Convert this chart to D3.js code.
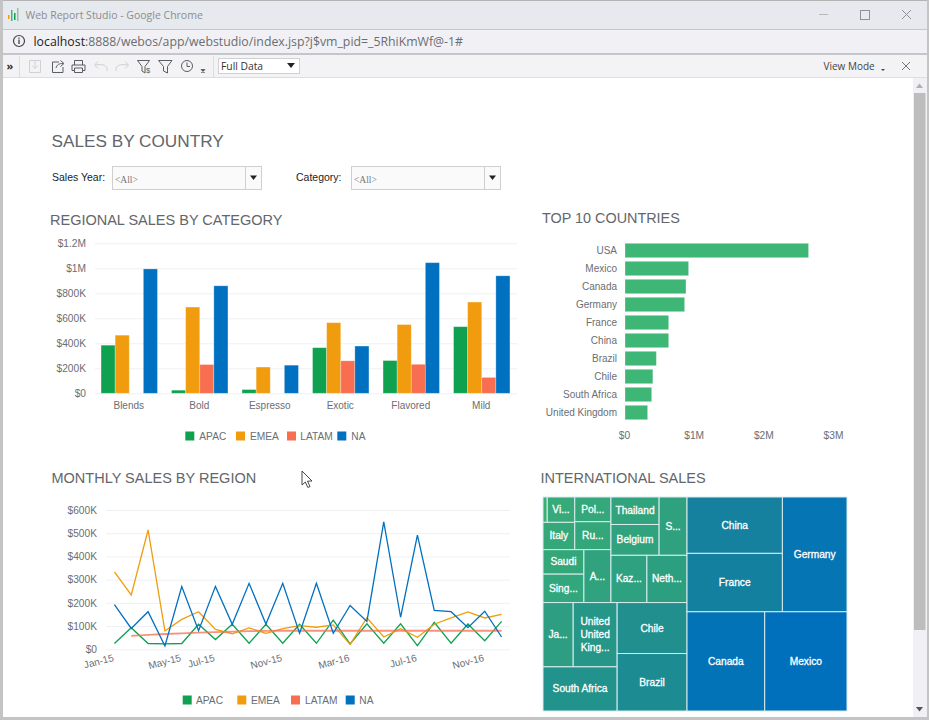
<!DOCTYPE html>
<html>
<head>
<meta charset="utf-8">
<title>Web Report Studio</title>
<script src="https://cdn.jsdelivr.net/npm/d3@7"></script>
<style>
html, body { margin: 0; padding: 0; background: #fff; overflow: hidden; }
svg { display: block; }
text { font-family: "Liberation Sans", Arial, sans-serif; }
.ui { font-family: "Open Sans", "Noto Sans", sans-serif; }
.title { fill: #63666a; }
.axis text { fill: #6b6e73; font-size: 10.2px; }
.axis.small text { font-size: 10px; }
.axis .domain { display: none; }
.axis line { stroke: #eef0f4; }
.legend text { fill: #6b6e73; font-size: 10.2px; }
.tm text { fill: #fff; stroke: #fff; stroke-width: 0.3px; font-size: 10.2px; text-anchor: middle; }
</style>
</head>
<body>
<div id="chart"></div>
<script>
// regional sales by category ($K)
var regions = ['APAC', 'EMEA', 'LATAM', 'NA'];
var regionColors = ['#0fa14f', '#f09c0e', '#f76e50', '#0070c0'];
var categories = ['Blends', 'Bold', 'Espresso', 'Exotic', 'Flavored', 'Mild'];
var catApac = [385, 25, 30, 365, 262, 533];
var catEmea = [465, 690, 210, 565, 550, 730];
var catLatam = [0, 230, 0, 260, 232, 127];
var catNa = [995, 860, 225, 378, 1045, 940];
var catTicks = [0, 200, 400, 600, 800, 1000, 1200];
var catTickLabels = ['$0', '$200K', '$400K', '$600K', '$800K', '$1M', '$1.2M'];

// top 10 countries ($M)
var countries = ['USA', 'Mexico', 'Canada', 'Germany', 'France', 'China', 'Brazil', 'Chile', 'South Africa', 'United Kingdom'];
var countrySales = [2.635, 0.913, 0.875, 0.856, 0.627, 0.627, 0.45, 0.40, 0.383, 0.325];
var countryTicks = [0, 1, 2, 3];
var countryTickLabels = ['$0', '$1M', '$2M', '$3M'];

// monthly sales by region ($K)
var months = ['Jan-15', 'Feb-15', 'Mar-15', 'Apr-15', 'May-15', 'Jun-15', 'Jul-15', 'Aug-15', 'Sep-15', 'Oct-15', 'Nov-15', 'Dec-15',
	'Jan-16', 'Feb-16', 'Mar-16', 'Apr-16', 'May-16', 'Jun-16', 'Jul-16', 'Aug-16', 'Sep-16', 'Oct-16', 'Nov-16', 'Dec-16'];
var monthApac = [25, 93, 25, 23, 25, 108, 42, 108, 26, 108, 26, 108, 26, 126, 23, 110, 26, 110, 16, 116, 26, 109, 37, 120];
var monthEmea = [333, 234, 514, 79, 129, 162, 86, 67, 92, 69, 89, 102, 95, 105, 21, 136, 53, 89, 52, 108, 135, 161, 135, 150];
var monthLatam = [null, 58, 62, 66, 69, 72, 74, 76, 78, 79, 80, 80, 80, 80, 80, 80, 80, 80, 80, 80, 80, 80, 80, 80];
var monthNa = [192, 90, 162, 14, 270, 80, 271, 108, 284, 109, 284, 69, 284, 69, 189, 120, 549, 138, 492, 168, 162, 93, 164, 53];
var monthTicks = [0, 100, 200, 300, 400, 500, 600];
var monthTickLabels = ['$0', '$100K', '$200K', '$300K', '$400K', '$500K', '$600K'];
var monthLabels = ['Jan-15', 'May-15', 'Jul-15', 'Nov-15', 'Mar-16', 'Jul-16', 'Nov-16'];

// international sales treemap ($K), tmNest holds the grouping as indexes into the lists
var tmNames = ['Mexico', 'Canada', 'Germany', 'France', 'China', 'Brazil', 'Chile', 'South Africa', 'United United Kingdom', 'Japan',
	'Netherlands', 'Kazakhstan', 'Spain', 'Belgium', 'Thailand', 'Australia', 'Singapore', 'Saudi', 'Russia', 'Poland', 'Italy', 'Vietnam', 'Other'];
var tmLabels = ['Mexico', 'Canada', 'Germany', 'France', 'China', 'Brazil', 'Chile', 'South Africa', 'United|United|King...', 'Ja...',
	'Neth...', 'Kaz...', 'S...', 'Belgium', 'Thailand', 'A...', 'Sing...', 'Saudi', 'Ru...', 'Pol...', 'Italy', 'Vi...', ''];
var tmValues = [913, 862, 829, 623, 601, 449, 398, 366, 316, 217, 212, 190, 182, 166, 148, 160, 130, 112, 113, 100, 97, 78, 12];
var tmNest = [
	[
		[
			[
				[[[22, 21], 20], [19, 18]],
				[[17, 16], 15]
			],
			[
				[[14, 13], 12],
				[11, 10]
			]
		],
		[
			[[9, 8], 7],
			[6, 5]
		]
	],
	[
		[[4, 3], 2],
		[1, 0]
	]
];

var WIDTH = 929;
var HEIGHT = 720;

var svg = d3.select('#chart').append('svg').attr('width', WIDTH).attr('height', HEIGHT);

drawChrome();
drawHeader();
drawCategoryChart();
drawCountryChart();
drawMonthlyChart();
drawTreemap();
drawCursor();

function drawChrome() {
	var g = svg.append('g');
	g.append('rect').attr('width', WIDTH).attr('height', HEIGHT).attr('fill', '#fff');
	g.append('rect').attr('y', 0).attr('width', WIDTH).attr('height', 30).attr('fill', '#e6e9ed');
	g.append('rect').attr('y', 30).attr('width', WIDTH).attr('height', 23).attr('fill', '#f1f1f5');
	g.append('rect').attr('y', 53).attr('width', WIDTH).attr('height', 2).attr('fill', '#c4c6ca');
	g.append('rect').attr('y', 55).attr('width', WIDTH).attr('height', 22).attr('fill', '#f3f3f6');
	g.append('rect').attr('y', 77).attr('width', WIDTH).attr('height', 1).attr('fill', '#dcdde0');
	g.append('rect').attr('y', 29).attr('width', WIDTH).attr('height', 1).attr('fill', '#c4c6ca');
	g.append('rect').attr('width', WIDTH).attr('height', 1).attr('fill', '#b4b4b4');
	g.append('rect').attr('width', 3).attr('height', HEIGHT).attr('fill', '#c4c4c4');
	g.append('rect').attr('x', WIDTH - 2).attr('width', 2).attr('height', HEIGHT).attr('fill', '#c4c4c4');
	g.append('rect').attr('y', HEIGHT - 3).attr('width', WIDTH).attr('height', 3).attr('fill', '#c4c4c4');

	// logo
	[[8, 15, 4, '#f09c0e'], [11, 10, 11, '#3eb776'], [14, 13, 7, '#0fa14f'], [17, 8, 13, '#8bc7a5']].forEach(function (b) {
		g.append('rect').attr('x', b[0]).attr('y', b[1]).attr('width', 1.5).attr('height', b[2]).attr('fill', b[3]);
	});
	g.append('text').attr('class', 'ui').attr('x', 25.5).attr('y', 19).attr('font-size', 10.5).attr('fill', '#8a8d91')
		.text('Web Report Studio - Google Chrome');

	// window buttons
	var btn = g.append('g').attr('fill', 'none').attr('stroke', '#8f9296').attr('stroke-width', 1);
	btn.append('path').attr('d', 'M819 14.5H828').attr('stroke', '#b5b7ba');
	btn.append('rect').attr('x', 860.5).attr('y', 10.5).attr('width', 9).attr('height', 9);
	btn.append('path').attr('d', 'M902 10L911 19M911 10L902 19');

	// address bar
	g.append('circle').attr('cx', 19).attr('cy', 41).attr('r', 5.5).attr('fill', 'none').attr('stroke', '#444').attr('stroke-width', 1.2);
	g.append('path').attr('d', 'M19 39.5V44M19 37.5V38.7').attr('stroke', '#444').attr('stroke-width', 1.3);
	var url = g.append('text').attr('class', 'ui').attr('x', 33.5).attr('y', 45.5).attr('font-size', 12.3).attr('fill', '#6a6d71');
	url.append('tspan').attr('fill', '#222').text('localhost');
	url.append('tspan').text(':8888/webos/app/webstudio/index.jsp?j$vm_pid=_5RhiKmWf@-1#');

	// toolbar
	g.append('text').attr('class', 'ui').attr('x', 6.5).attr('y', 70).attr('font-size', 11).attr('font-weight', 'bold').attr('fill', '#333').text('»');
	g.append('path').attr('d', 'M19.5 56V77M213.5 56V77').attr('stroke', '#dcdde0');
	var dark = g.append('g').attr('fill', 'none').attr('stroke', '#5a5d61').attr('stroke-width', 1);
	var faint = g.append('g').attr('fill', 'none').attr('stroke', '#cfd1d4').attr('stroke-width', 1);
	faint.append('path').attr('d', 'M29.5 60.5H40.5V72.5H29.5ZM35 60V68M32 65.5L35 68.5L38 65.5');
	dark.append('path').attr('d', 'M59 62H52.5V72.5H63V67M56 68C57 64.5 59 63.5 63 63.5M60.5 60.5L64 63.5L60.5 66.5');
	dark.append('path').attr('d', 'M74.5 65V60.5H82.5V65M72 65H85V70.5H82.5M74.5 70.5H72V65M74.5 68H82.5V72.5H74.5Z');
	faint.append('path').attr('d', 'M107 71C108 66 104 63.5 95 65M98 61.5L94.5 65L98 68.5');
	faint.append('path').attr('d', 'M116 71C115 66 119 63.5 128 65M125 61.5L128.5 65L125 68.5');
	dark.append('path').attr('d', 'M137.5 60.5H149.5L145 66.5V73L142 71V66.5Z');
	g.append('text').attr('x', 146).attr('y', 73).attr('font-size', 7.5).attr('fill', '#555').text('$');
	dark.append('path').attr('d', 'M158.5 60.5H172L167.5 66.5V73L163.5 71V66.5Z');
	dark.append('circle').attr('cx', 187).attr('cy', 66).attr('r', 5.5);
	dark.append('path').attr('d', 'M187 62.5V66.5H190');
	g.append('path').attr('d', 'M201 69.5H205L203 71.5ZM201 72.5H205').attr('fill', '#444').attr('stroke', '#444').attr('stroke-width', 0.6);

	g.append('rect').attr('x', 218.5).attr('y', 58.5).attr('width', 81).attr('height', 15).attr('fill', '#fff').attr('stroke', '#cfd1d4');
	g.append('text').attr('class', 'ui').attr('x', 221).attr('y', 70).attr('font-size', 10.3).attr('fill', '#333').text('Full Data');
	g.append('path').attr('d', 'M287 63H295L291 68Z').attr('fill', '#222');

	g.append('text').attr('class', 'ui').attr('x', 823.5).attr('y', 70).attr('font-size', 10).attr('fill', '#444').text('View Mode');
	g.append('path').attr('d', 'M881 69H885L883 71Z').attr('fill', '#444');
	g.append('path').attr('d', 'M902 62L910 70M910 62L902 70').attr('stroke', '#777').attr('fill', 'none');

	// scrollbar
	g.append('rect').attr('x', 913).attr('y', 78).attr('width', 14).attr('height', 639).attr('fill', '#f1f1f5');
	g.append('rect').attr('x', 914).attr('y', 93).attr('width', 11.5).attr('height', 537).attr('fill', '#bdbdbd');
	g.append('path').attr('d', 'M916 88L919.5 83.5L923 88Z').attr('fill', '#b0b0b0');
	g.append('path').attr('d', 'M916 707H923L919.5 711.5Z').attr('fill', '#555');
}

function drawHeader() {
	svg.append('text').attr('class', 'title').attr('x', 51.5).attr('y', 146.5).attr('font-size', 17.2).text('SALES BY COUNTRY');
	svg.append('text').attr('x', 52).attr('y', 181).attr('font-size', 10.5).attr('fill', '#222').text('Sales Year:');
	svg.append('text').attr('x', 296).attr('y', 181).attr('font-size', 10.5).attr('fill', '#222').text('Category:');
	drawCombo(112, 166, 149);
	drawCombo(351, 166, 149);

	svg.append('text').attr('class', 'title').attr('x', 50).attr('y', 225).attr('font-size', 14.5).text('REGIONAL SALES BY CATEGORY');
	svg.append('text').attr('class', 'title').attr('x', 542).attr('y', 223).attr('font-size', 14.4).text('TOP 10 COUNTRIES');
	svg.append('text').attr('class', 'title').attr('x', 51.5).attr('y', 483).attr('font-size', 14.5).text('MONTHLY SALES BY REGION');
	svg.append('text').attr('class', 'title').attr('x', 540.5).attr('y', 483).attr('font-size', 14.5).text('INTERNATIONAL SALES');
}

function drawCombo(x, y, w) {
	var g = svg.append('g').attr('transform', 'translate(' + x + ',' + y + ')');
	g.append('rect').attr('x', 0.5).attr('y', 0.5).attr('width', w).attr('height', 23).attr('fill', '#fafafa').attr('stroke', '#cfcfcf');
	g.append('path').attr('d', 'M' + (w - 15.5) + ' 0.5V23.5').attr('stroke', '#cfcfcf');
	g.append('path').attr('d', 'M' + (w - 11) + ' 9.5H' + (w - 4) + 'L' + (w - 7.5) + ' 14Z').attr('fill', '#222');
	g.append('text').attr('x', 3).attr('y', 17).attr('font-size', 9.5).attr('fill', '#777')
		.style('font-family', '"Liberation Serif", serif').text('<All>');
}

function drawLegend(swatchX, textX, cy) {
	var g = svg.append('g').attr('class', 'legend');
	regions.forEach(function (r, i) {
		g.append('rect').attr('x', swatchX[i]).attr('y', cy - 4.5).attr('width', 9).attr('height', 9).attr('fill', regionColors[i]);
		g.append('text').attr('x', textX[i]).attr('y', cy + 4).text(r);
	});
}

function drawCategoryChart() {
	var series = [catApac, catEmea, catLatam, catNa];
	var x0 = d3.scaleBand().domain(categories).range([94, 517]).paddingInner(0.2).paddingOuter(0.1);
	var x1 = d3.scaleBand().domain(regions).range([0, x0.bandwidth()]);
	var y = d3.scaleLinear().domain([0, 1200]).range([393.3, 243.3]);

	svg.append('g').attr('class', 'axis').attr('transform', 'translate(95,0)')
		.call(d3.axisLeft(y).tickValues(catTicks).tickSize(-422).tickPadding(9)
			.tickFormat(function (d, i) { return catTickLabels[i]; }));

	svg.append('g').attr('class', 'axis small').attr('transform', 'translate(-0.5,393.3)')
		.call(d3.axisBottom(x0).tickSize(0).tickPadding(9));

	regions.forEach(function (r, s) {
		svg.append('g').selectAll('rect')
			.data(series[s])
			.enter()
			.append('rect')
			.attr('x', function (d, i) { return x0(categories[i]) + x1(r); })
			.attr('y', function (d) { return y(d); })
			.attr('width', x1.bandwidth())
			.attr('height', function (d) { return y(0) - y(d); })
			.attr('fill', regionColors[s])
			.attr('stroke', '#fff')
			.attr('stroke-opacity', 0.35)
			.attr('stroke-width', function (d) { return d > 0 ? 0.8 : 0; });
	});

	drawLegend([185.3, 236, 287, 337.3], [199.3, 250, 300.3, 351.3], 436);
}

function drawCountryChart() {
	var x = d3.scaleLinear().domain([0, 3]).range([625, 834]);
	var y = d3.scaleBand().domain(countries).range([241.5, 421.5]).paddingInner(0.2).paddingOuter(0.1);

	svg.append('g').attr('class', 'axis small').attr('transform', 'translate(625,0)')
		.call(d3.axisLeft(y).tickSize(0).tickPadding(8));

	svg.append('g').attr('class', 'axis').attr('transform', 'translate(-1,421.5)')
		.call(d3.axisBottom(x).tickValues(countryTicks).tickSize(0).tickPadding(10)
			.tickFormat(function (d, i) { return countryTickLabels[i]; }));

	svg.append('g').selectAll('rect')
		.data(countrySales)
		.enter()
		.append('rect')
		.attr('x', x(0))
		.attr('y', function (d, i) { return y(countries[i]); })
		.attr('width', function (d) { return x(d) - x(0); })
		.attr('height', y.bandwidth())
		.attr('fill', '#3eb776')
		.attr('stroke', '#fff')
		.attr('stroke-opacity', 0.35)
		.attr('stroke-width', 0.8);
}

function drawMonthlyChart() {
	var series = [monthApac, monthEmea, monthLatam, monthNa];
	var x = d3.scaleBand().domain(months).range([106, 510]);
	var y = d3.scaleLinear().domain([0, 600]).range([649.3, 510]);

	svg.append('g').attr('class', 'axis').attr('transform', 'translate(106,0)')
		.call(d3.axisLeft(y).tickValues(monthTicks).tickSize(-404).tickPadding(9)
			.tickFormat(function (d, i) { return monthTickLabels[i]; }));

	var xAxis = svg.append('g').attr('class', 'axis small').attr('transform', 'translate(0,649.3)')
		.call(d3.axisBottom(x).tickValues(monthLabels).tickSize(0).tickPadding(5));
	xAxis.selectAll('text')
		.attr('text-anchor', 'end')
		.attr('x', -3)
		.attr('dy', '0.6em')
		.attr('transform', 'rotate(-15)');

	var line = d3.line()
		.defined(function (d) { return d !== null; })
		.x(function (d, i) { return x(months[i]) + x.bandwidth() / 2; })
		.y(function (d) { return y(d); });

	[0, 1, 2, 3].forEach(function (s) {
		svg.append('path')
			.attr('d', line(series[s]))
			.attr('fill', 'none')
			.attr('stroke', regionColors[s])
			.attr('stroke-opacity', s == 2 ? 0.75 : 1)
			.attr('stroke-width', s == 2 ? 1.8 : 1.3);
	});

	drawLegend([182.7, 237.3, 291, 345.7], [196, 251, 305, 359.3], 700);
}

function drawTreemap() {
	function build(n) {
		if (typeof n === 'number') {
			return { name: tmNames[n], label: tmLabels[n], value: tmValues[n] };
		}
		return { children: n.map(build) };
	}

	var root = d3.hierarchy(build(tmNest))
		.sum(function (d) { return d.value || 0; });

	d3.treemap().tile(d3.treemapSliceDice).size([304, 214]).round(false)(root);

	var color = d3.scaleLinear()
		.domain([78, 400, 620, 913])
		.range(['#36aa78', '#208f8e', '#14809f', '#0070bd']);

	var cell = svg.append('g').attr('class', 'tm').attr('transform', 'translate(543,497)').selectAll('g')
		.data(root.leaves())
		.enter()
		.append('g');

	cell.append('rect')
		.attr('x', function (d) { return d.x0; })
		.attr('y', function (d) { return d.y0; })
		.attr('width', function (d) { return d.x1 - d.x0; })
		.attr('height', function (d) { return d.y1 - d.y0; })
		.attr('fill', function (d) { return color(d.data.value); })
		.attr('stroke', '#d8ecef')
		.attr('stroke-width', 1);

	cell.each(function (d) {
		var lines = d.data.label.split('|');
		var cx = (d.x0 + d.x1) / 2;
		var cy = (d.y0 + d.y1) / 2;
		d3.select(this).selectAll('text')
			.data(lines)
			.enter()
			.append('text')
			.attr('x', cx)
			.attr('y', function (t, i) { return cy + 3.5 + (i - (lines.length - 1) / 2) * 13; })
			.text(function (t) { return t; });
	});
}

function drawCursor() {
	svg.append('path')
		.attr('d', 'M302 471V485L305.3 482L307.8 487.5L310 486.5L307.5 481.2L312 481Z')
		.attr('fill', '#fff')
		.attr('stroke', '#333')
		.attr('stroke-width', 0.9);
}
</script>
</body>
</html>
